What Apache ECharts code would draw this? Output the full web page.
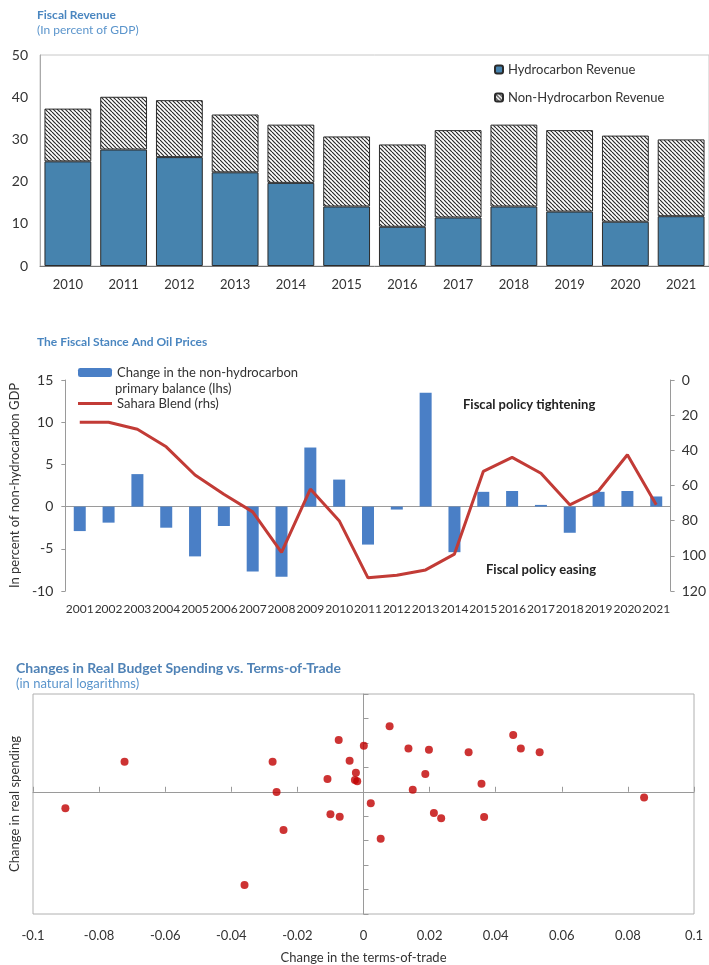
<!DOCTYPE html>
<html>
<head>
<meta charset="utf-8">
<script src="https://cdn.jsdelivr.net/npm/echarts@6/dist/echarts.min.js"></script>
<style>
  html, body { margin: 0; padding: 0; background: #fff; }
  #main { width: 709px; height: 965px; }
</style>
</head>
<body>
<div id="main"></div>
<script>
// fiscal revenue, in percent of GDP
var revYears = ['2010', '2011', '2012', '2013', '2014', '2015', '2016', '2017', '2018', '2019', '2020', '2021'];
var hydroRevenue = [24.8, 27.6, 25.8, 22.2, 19.7, 14.1, 9.3, 11.5, 14.1, 12.9, 10.5, 11.8];
var nonHydroRevenue = [12.5, 12.5, 13.5, 13.7, 13.8, 16.6, 19.5, 20.7, 19.4, 19.3, 20.4, 18.2];

// fiscal stance and oil prices
var stanceYears = ['2001', '2002', '2003', '2004', '2005', '2006', '2007', '2008', '2009', '2010', '2011',
  '2012', '2013', '2014', '2015', '2016', '2017', '2018', '2019', '2020', '2021'];
var balanceChange = [-2.9, -1.9, 3.85, -2.5, -5.9, -2.3, -7.7, -8.3, 7.0, 3.2, -4.5,
  -0.35, 13.5, -5.4, 1.75, 1.85, 0.2, -3.1, 1.75, 1.85, 1.2];
var saharaBlend = [24, 24, 28, 38, 54, 65, 75, 98, 62, 80, 112.5,
  111, 108, 99, 52, 44, 53, 71, 63, 42.5, 71];

// real spending vs terms-of-trade (natural logs)
var totChange = [-0.0902, -0.0723, -0.036, -0.0275, -0.0263, -0.0242, -0.0109, -0.0100, -0.0075, -0.0072,
  -0.0042, -0.0023, -0.0026, -0.0019, 0.0001, 0.0022, 0.0052, 0.0079, 0.0136, 0.0149,
  0.0187, 0.0198, 0.0213, 0.0235, 0.0318, 0.0357, 0.0365, 0.0453, 0.0476, 0.0533, 0.0849];
var spendChange = [-0.0338, 0.0615, -0.1905, 0.0615, -0.0007, -0.078, 0.026, -0.046, 0.106, -0.051,
  0.0635, 0.039, 0.024, 0.0216, 0.094, -0.0236, -0.096, 0.134, 0.0885, 0.004,
  0.0365, 0.0858, -0.0432, -0.054, 0.081, 0.0162, -0.0514, 0.116, 0.0885, 0.081, -0.0115];

var scatterData = totChange.map(function (x, i) { return [x, spendChange[i]]; });

// hatch pattern for non-hydrocarbon bars
var hatch = document.createElement('canvas');
hatch.width = 4; hatch.height = 4;
var hc = hatch.getContext('2d');
hc.fillStyle = '#fff';
hc.fillRect(0, 0, 4, 4);
hc.strokeStyle = '#2a2a2a';
hc.lineWidth = 1.2;
[-4, 0, 4].forEach(function (o) {
  hc.beginPath();
  hc.moveTo(o, 0);
  hc.lineTo(o + 4, 4);
  hc.stroke();
});

var FONT = 'Lato, "Liberation Sans", sans-serif';
var axisGray = '#9a9a9a';
var txt = { fontFamily: FONT, color: '#333', fontSize: 13 };

var myChart = echarts.init(document.getElementById('main'));
myChart.setOption({
  backgroundColor: '#fff',
  animation: false,
  textStyle: { fontFamily: FONT },
  title: [{
    text: 'Fiscal Revenue',
    subtext: '(In percent of GDP)',
    left: 37, top: 9, itemGap: 3, padding: 0,
    textStyle: { fontFamily: FONT, fontSize: 12, fontWeight: 'bold', color: '#4a86c0' },
    subtextStyle: { fontFamily: FONT, fontSize: 12, color: '#5b95cc' }
  }, {
    text: 'The Fiscal Stance And Oil Prices',
    left: 37, top: 336, padding: 0,
    textStyle: { fontFamily: FONT, fontSize: 12, fontWeight: 'bold', color: '#4a86c0' }
  }, {
    text: 'Changes in Real Budget Spending vs. Terms-of-Trade',
    subtext: '(in natural logarithms)',
    left: 16, top: 661, itemGap: 2, padding: 0,
    textStyle: { fontFamily: FONT, fontSize: 14, fontWeight: 'bold', color: '#4f82b6' },
    subtextStyle: { fontFamily: FONT, fontSize: 13, color: '#5b95cc' }
  }],
  legend: [{
    data: ['Hydrocarbon Revenue', 'Non-Hydrocarbon Revenue'],
    orient: 'vertical',
    left: 494, top: 63, padding: 0,
    itemWidth: 8, itemHeight: 8, itemGap: 15,
    textStyle: txt
  }, {
    data: ['Change in the non-hydrocarbon primary balance (lhs)'],
    left: 78, top: 366, padding: 0,
    itemWidth: 34, itemHeight: 9,
    formatter: function () { return 'Change in the non-hydrocarbon'; },
    textStyle: txt
  }, {
    data: ['Sahara Blend (rhs)'],
    left: 78, top: 397, padding: 0,
    icon: 'rect',
    itemWidth: 34, itemHeight: 3,
    textStyle: txt
  }],
  graphic: [{
    type: 'text', left: 115, top: 382,
    style: { text: 'primary balance (lhs)', font: '13px ' + FONT, fill: '#333' }
  }, {
    type: 'text', left: 463, top: 398,
    style: { text: 'Fiscal policy tightening', font: 'bold 13px ' + FONT, fill: '#222' }
  }, {
    type: 'text', left: 486, top: 563,
    style: { text: 'Fiscal policy easing', font: 'bold 13px ' + FONT, fill: '#222' }
  }],
  grid: [
    { left: 40, top: 55, width: 673, height: 211, show: true, borderColor: '#c8c8c8', borderWidth: 1 },
    { left: 46, top: 380, right: 33, height: 211 },
    { left: 32, top: 694, right: 15, height: 220, show: true, borderColor: '#b0b0b0', borderWidth: 1 }
  ],
  xAxis: [{
    gridIndex: 0, type: 'category', data: revYears,
    axisLine: { lineStyle: { color: '#777' } },
    axisTick: { show: false },
    axisLabel: Object.assign({ margin: 12, interval: 0 }, txt)
  }, {
    gridIndex: 1, type: 'category', data: stanceYears, position: 'bottom',
    axisLine: { onZero: true, lineStyle: { color: axisGray } },
    axisTick: { inside: true, length: 4, lineStyle: { color: axisGray } },
    axisLabel: { show: false }
  }, {
    gridIndex: 1, type: 'category', data: stanceYears, position: 'bottom',
    axisLine: { show: false, onZero: false },
    axisTick: { show: false },
    axisLabel: Object.assign({ margin: 12, interval: 0 }, txt, { fontSize: 12 })
  }, {
    gridIndex: 2, type: 'value', min: -0.1, max: 0.1, interval: 0.02, position: 'bottom',
    axisLine: { show: false, onZero: false },
    axisTick: { show: false },
    splitLine: { show: false },
    axisLabel: Object.assign({ margin: 15 }, txt),
    name: 'Change in the terms-of-trade',
    nameLocation: 'middle', nameGap: 37,
    nameTextStyle: txt
  }, {
    gridIndex: 2, type: 'value', min: -0.1, max: 0.1, interval: 0.02, position: 'bottom',
    axisLine: { onZero: true, lineStyle: { color: axisGray } },
    axisTick: { inside: true, length: 5, lineStyle: { color: axisGray } },
    axisLabel: { show: false },
    splitLine: { show: false }
  }],
  yAxis: [{
    gridIndex: 0, type: 'value', min: 0, max: 50, interval: 10,
    axisLine: { show: true, lineStyle: { color: '#aaa' } },
    axisTick: { show: false },
    splitLine: { show: false },
    axisLabel: Object.assign({ margin: 12 }, txt, { fontSize: 14 })
  }, {
    gridIndex: 1, type: 'value', min: -10, max: 15, interval: 5, position: 'left',
    axisLine: { show: true, onZero: false, lineStyle: { color: axisGray } },
    axisTick: { show: true, length: 4, lineStyle: { color: axisGray } },
    splitLine: { show: false },
    axisLabel: Object.assign({ margin: 12 }, txt, { fontSize: 14 }),
    name: 'In percent of non-hydrocarbon GDP',
    nameLocation: 'middle', nameGap: 25,
    nameTextStyle: Object.assign({}, txt, { fontSize: 13 })
  }, {
    gridIndex: 1, type: 'value', min: 0, max: 120, interval: 20, position: 'right', inverse: true,
    axisLine: { show: true, onZero: false, lineStyle: { color: axisGray } },
    axisTick: { show: true, length: 4, lineStyle: { color: axisGray } },
    splitLine: { show: false },
    axisLabel: Object.assign({ margin: 11 }, txt, { fontSize: 14 })
  }, {
    gridIndex: 2, type: 'value', min: -0.25, max: 0.2, interval: 0.05,
    axisLine: { onZero: true, lineStyle: { color: axisGray } },
    axisTick: { inside: true, length: 5, lineStyle: { color: axisGray } },
    axisLabel: { show: false },
    splitLine: { show: false }
  }, {
    gridIndex: 2, type: 'value', min: -0.25, max: 0.2, position: 'left',
    axisLine: { show: false, onZero: false },
    axisTick: { show: false },
    axisLabel: { show: false },
    splitLine: { show: false },
    name: 'Change in real spending',
    nameLocation: 'middle', nameGap: 12,
    nameTextStyle: txt
  }],
  series: [{
    name: 'Hydrocarbon Revenue',
    type: 'bar', stack: 'rev', xAxisIndex: 0, yAxisIndex: 0,
    barCategoryGap: '16%',
    itemStyle: { color: '#4683ae', borderColor: '#2b2b2b', borderWidth: 1 },
    data: hydroRevenue
  }, {
    name: 'Non-Hydrocarbon Revenue',
    type: 'bar', stack: 'rev', xAxisIndex: 0, yAxisIndex: 0,
    barCategoryGap: '16%',
    itemStyle: { color: { image: hatch, repeat: 'repeat' }, borderColor: '#2b2b2b', borderWidth: 1 },
    data: nonHydroRevenue
  }, {
    name: 'Change in the non-hydrocarbon primary balance (lhs)',
    type: 'bar', xAxisIndex: 1, yAxisIndex: 1,
    barWidth: 12,
    itemStyle: { color: '#4a7fc6' },
    data: balanceChange
  }, {
    name: 'Sahara Blend (rhs)',
    type: 'line', xAxisIndex: 1, yAxisIndex: 2,
    symbol: 'none',
    lineStyle: { color: '#c23b36', width: 3 },
    itemStyle: { color: '#c23b36' },
    data: saharaBlend
  }, {
    name: 'Spending vs ToT',
    type: 'scatter', xAxisIndex: 3, yAxisIndex: 3,
    symbolSize: 8,
    itemStyle: { color: '#c00000' },
    data: scatterData
  }]
});
</script>
</body>
</html>
